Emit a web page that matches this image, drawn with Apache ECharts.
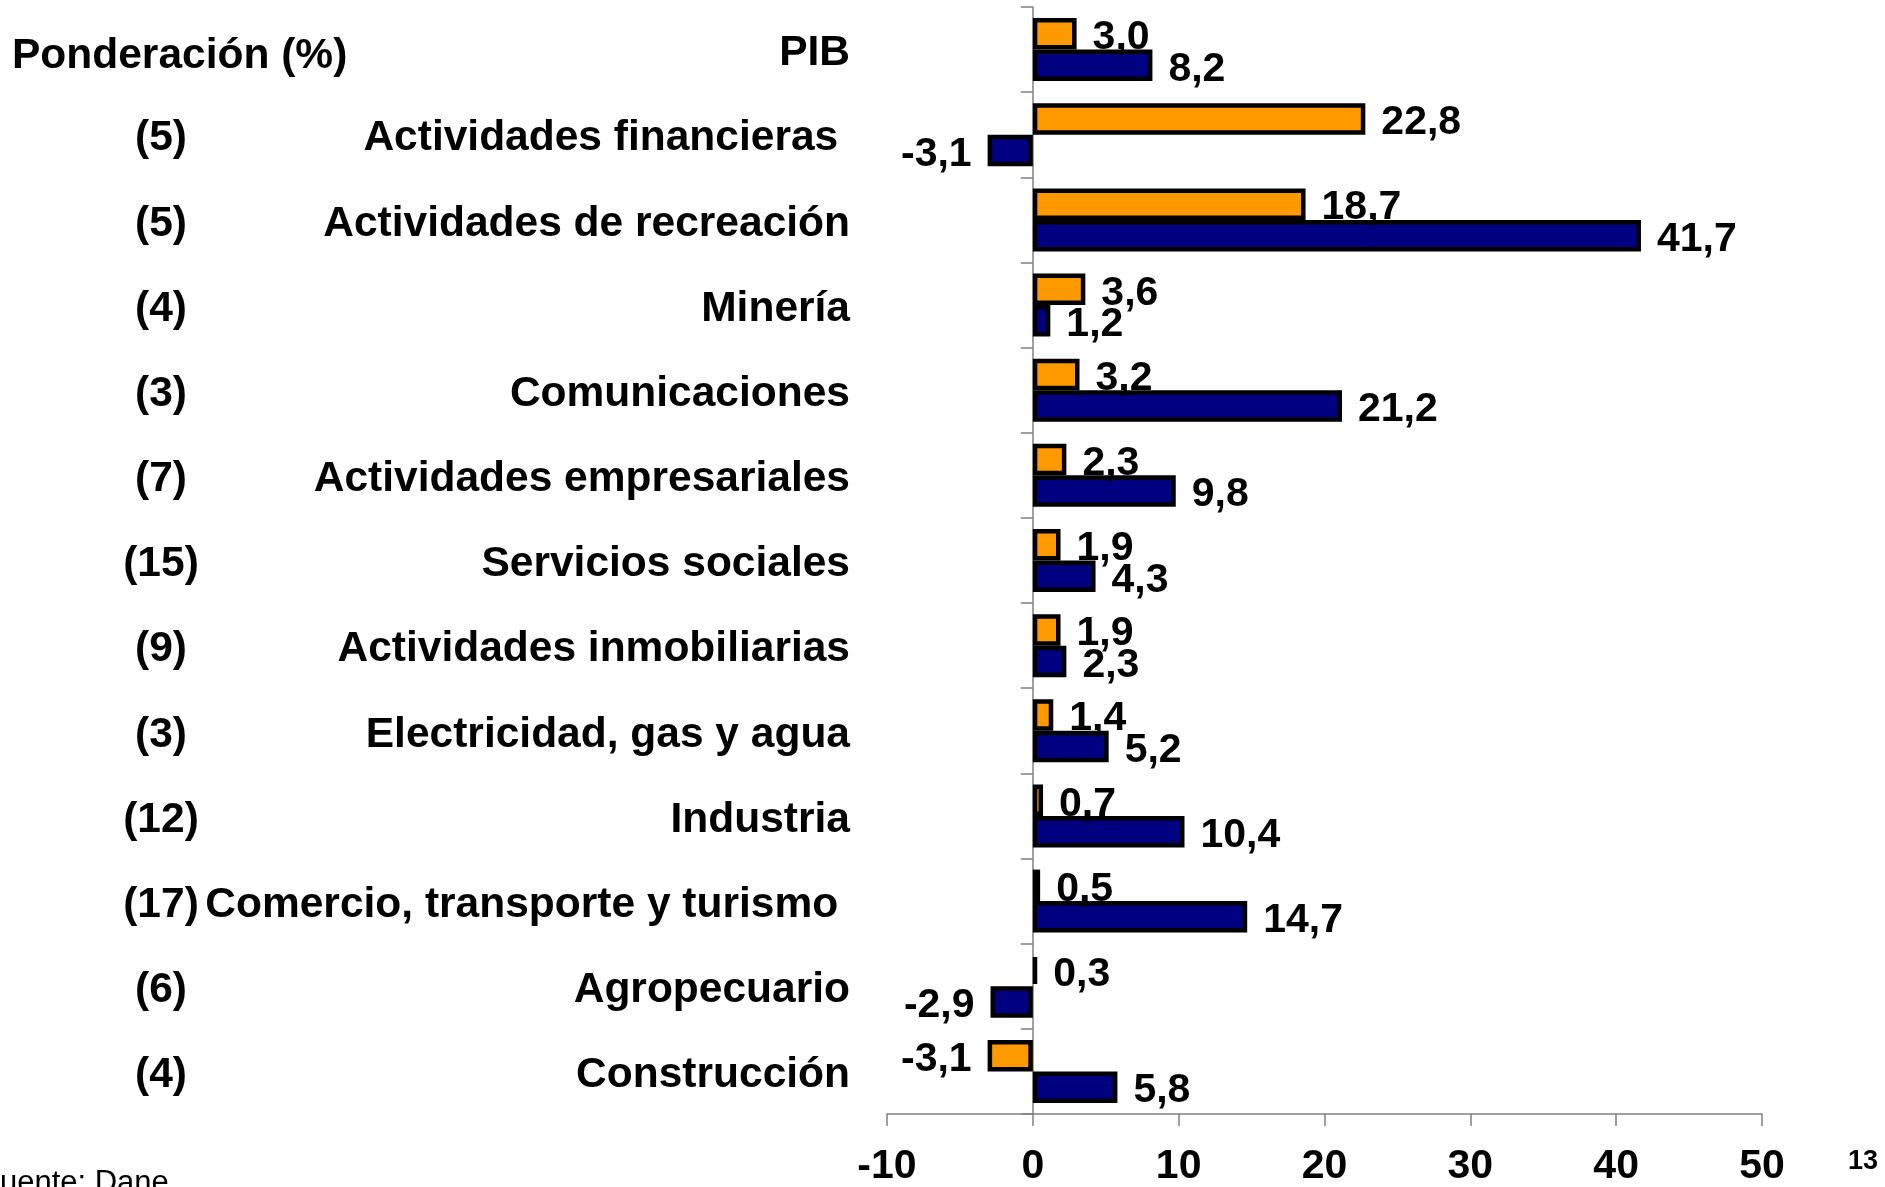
<!DOCTYPE html>
<html>
<head>
<meta charset="utf-8">
<script src="https://cdn.jsdelivr.net/npm/echarts@6/dist/echarts.min.js"></script>
<style>
html,body{margin:0;padding:0;background:#fff;}
#chart{width:1885px;height:1187px;}
</style>
</head>
<body>
<div id="chart"></div>
<script>
var categories = ['PIB', 'Actividades financieras ', 'Actividades de recreación', 'Minería', 'Comunicaciones',
  'Actividades empresariales', 'Servicios sociales', 'Actividades inmobiliarias', 'Electricidad, gas y agua',
  'Industria', 'Comercio, transporte y turismo ', 'Agropecuario', 'Construcción'];
var weights = ['', '(5)', '(5)', '(4)', '(3)', '(7)', '(15)', '(9)', '(3)', '(12)', '(17)', '(6)', '(4)'];
var seriesOrange = [3.0, 22.8, 18.7, 3.6, 3.2, 2.3, 1.9, 1.9, 1.4, 0.7, 0.5, 0.3, -3.1];
var seriesBlue = [8.2, -3.1, 41.7, 1.2, 21.2, 9.8, 4.3, 2.3, 5.2, 10.4, 14.7, -2.9, 5.8];
var xTicks = [-10, 0, 10, 20, 30, 40, 50];

var FONT = '"Liberation Sans", Arial, sans-serif';
function fmt(v) { return v.toFixed(1).replace('.', ','); }
function items(arr) {
  return arr.map(function (v) {
    return { value: v, label: { position: v < 0 ? 'left' : 'right' } };
  });
}
var labelStyle = {
  show: true, distance: 16, offset: [0, 4], color: '#000', fontFamily: FONT, fontWeight: 'bold', fontSize: 41,
  formatter: function (p) { return fmt(p.value); }
};
var catRich = { c: { color: '#000', fontFamily: FONT, fontWeight: 'bold', fontSize: 42.5, padding: [8, 0, 0, 0] } };

var chart = echarts.init(document.getElementById('chart'), null, { renderer: 'canvas' });
chart.setOption({
  animation: false,
  backgroundColor: '#ffffff',
  title: {
    text: 'Ponderación (%)', left: 12, top: 35, padding: 0,
    textStyle: { fontFamily: FONT, fontWeight: 'bold', fontSize: 42.5, color: '#000' }
  },
  grid: { left: 887, right: 123, top: 7, bottom: 69, containLabel: false },
  xAxis: {
    type: 'value', min: xTicks[0], max: xTicks[xTicks.length - 1], interval: 10,
    splitLine: { show: false },
    axisLine: { show: true, onZero: false, lineStyle: { color: '#808080', width: 1.5 } },
    axisTick: { show: true, length: 12, lineStyle: { color: '#808080', width: 1.5 } },
    axisLabel: { margin: 32, color: '#000', fontFamily: FONT, fontWeight: 'bold', fontSize: 41 }
  },
  yAxis: [{
    type: 'category', data: categories, inverse: true,
    axisLine: { show: true, onZero: true, lineStyle: { color: '#808080', width: 1.5 } },
    axisTick: { show: true, length: 12, lineStyle: { color: '#808080', width: 1.5 } },
    axisLabel: { margin: 37, formatter: function (v) { return '{c|' + v + '}'; }, rich: catRich }
  }, {
    type: 'category', data: weights, inverse: true, position: 'left',
    axisLine: { show: false, onZero: false }, axisTick: { show: false }, splitLine: { show: false },
    axisLabel: { margin: 726, align: 'center', formatter: function (v) { return v ? '{c|' + v + '}' : ''; }, rich: catRich }
  }],
  series: [{
    name: 'Serie 1', type: 'bar', data: items(seriesOrange),
    barGap: '0%', barCategoryGap: '26%',
    itemStyle: { color: '#FF9900', borderColor: '#000', borderWidth: 4.5 },
    label: labelStyle
  }, {
    name: 'Serie 2', type: 'bar', data: items(seriesBlue),
    barGap: '0%', barCategoryGap: '26%',
    itemStyle: { color: '#000080', borderColor: '#000', borderWidth: 4.5 },
    label: labelStyle
  }],
  graphic: [{
    type: 'text', silent: true,
    style: { text: '13', x: 1848, y: 1162, font: 'bold 27px ' + FONT, fill: '#000', verticalAlign: 'middle' }
  }, {
    type: 'text', silent: true,
    style: { text: 'Fuente: Dane', x: -19, y: 1183, font: '31px ' + FONT, fill: '#000', verticalAlign: 'middle' }
  }]
});
</script>
</body>
</html>
